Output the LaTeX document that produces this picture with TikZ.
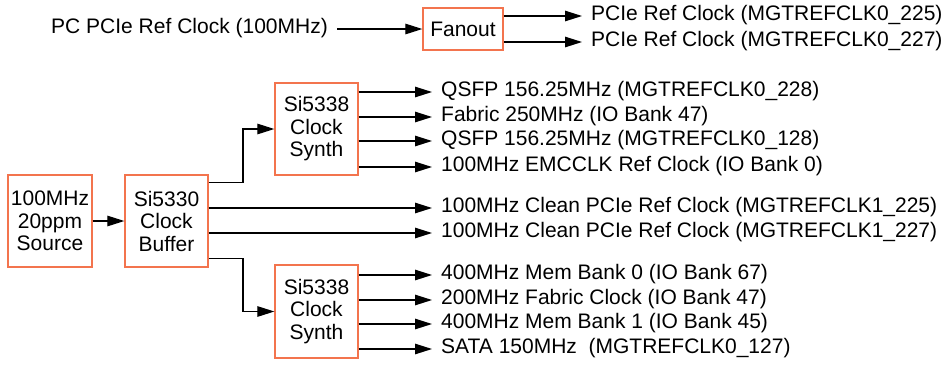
\documentclass[tikz,border=0pt]{standalone}
\usepackage{fontspec}
\setmainfont{Liberation Sans}
\usetikzlibrary{arrows.meta,calc}
\definecolor{boxorange}{RGB}{243,116,78}
\tikzset{
  blk/.style={draw=boxorange,line width=1.3pt,fill=white,inner sep=0pt,align=center,
    font=\fontsize{21}{22.5}\selectfont},
  lab/.style={inner xsep=9pt,inner ysep=0pt,text height=0.84em,text depth=0pt,
    font=\fontsize{21}{22.5}\selectfont},
  arr/.style={line width=1.2pt,-{Triangle[length=17pt,width=10.5pt]}}
}
\begin{document}
\begin{tikzpicture}[x=1pt,y=-1pt]
\useasboundingbox (0,0) rectangle (951,365);
% top
\node[lab,anchor=east] (pcin) at (337,29) {PC PCIe Ref Clock (100MHz)};
\node[blk,minimum width=80pt,minimum height=42pt] (fan) at (463,29) {Fanout};
\node[lab,anchor=west] (f1) at (582,16) {PCIe Ref Clock (MGTREFCLK0\_225)};
\node[lab,anchor=west] (f2) at (582,42) {PCIe Ref Clock (MGTREFCLK0\_227)};
\draw[arr] (pcin.east) -- (fan.west);
\draw[arr] (fan.east |- f1.west) -- (f1.west);
\draw[arr] (fan.east |- f2.west) -- (f2.west);
% main
\node[blk,minimum width=84pt,minimum height=92pt] (src) at (50,221) {100MHz\\20ppm\\Source};
\node[blk,minimum width=83pt,minimum height=92pt] (buf) at (166.5,221) {Si5330\\Clock\\Buffer};
\node[blk,minimum width=83pt,minimum height=92pt] (syn1) at (316.5,129) {Si5338\\Clock\\Synth};
\node[blk,minimum width=83pt,minimum height=93pt] (syn2) at (316.5,311.5) {Si5338\\Clock\\Synth};
\draw[arr] (src) -- (buf);
\coordinate (jx) at (243,0);
\coordinate (b1) at ($(buf.north east)+(0,8)$);
\coordinate (b4) at ($(buf.south east)+(0,-9)$);
\draw[arr] (b1) -- (b1 -| jx) |- (syn1.west);
\draw[arr] (b4) -- (b4 -| jx) |- (syn2.west);
% upper synth labels
\node[lab,anchor=west] (u1) at (432,92) {QSFP 156.25MHz (MGTREFCLK0\_228)};
\node[lab,anchor=west] (u2) at (432,117) {Fabric 250MHz (IO Bank 47)};
\node[lab,anchor=west] (u3) at (432,141) {QSFP 156.25MHz (MGTREFCLK0\_128)};
\node[lab,anchor=west] (u4) at (432,167) {100MHz EMCCLK Ref Clock (IO Bank 0)};
\foreach \n in {u1,u2,u3,u4} \draw[arr] (syn1.east |- \n.west) -- (\n.west);
% middle
\node[lab,anchor=west] (m1) at (432,208) {100MHz Clean PCIe Ref Clock (MGTREFCLK1\_225)};
\node[lab,anchor=west] (m2) at (432,233) {100MHz Clean PCIe Ref Clock (MGTREFCLK1\_227)};
\foreach \n in {m1,m2} \draw[arr] (buf.east |- \n.west) -- (\n.west);
% lower synth labels
\node[lab,anchor=west] (d1) at (432,275) {400MHz Mem Bank 0 (IO Bank 67)};
\node[lab,anchor=west] (d2) at (432,300) {200MHz Fabric Clock (IO Bank 47)};
\node[lab,anchor=west] (d3) at (432,324) {400MHz Mem Bank 1 (IO Bank 45)};
\node[lab,anchor=west] (d4) at (432,349) {SATA 150MHz~ (MGTREFCLK0\_127)};
\foreach \n in {d1,d2,d3,d4} \draw[arr] (syn2.east |- \n.west) -- (\n.west);
\end{tikzpicture}
\end{document}
